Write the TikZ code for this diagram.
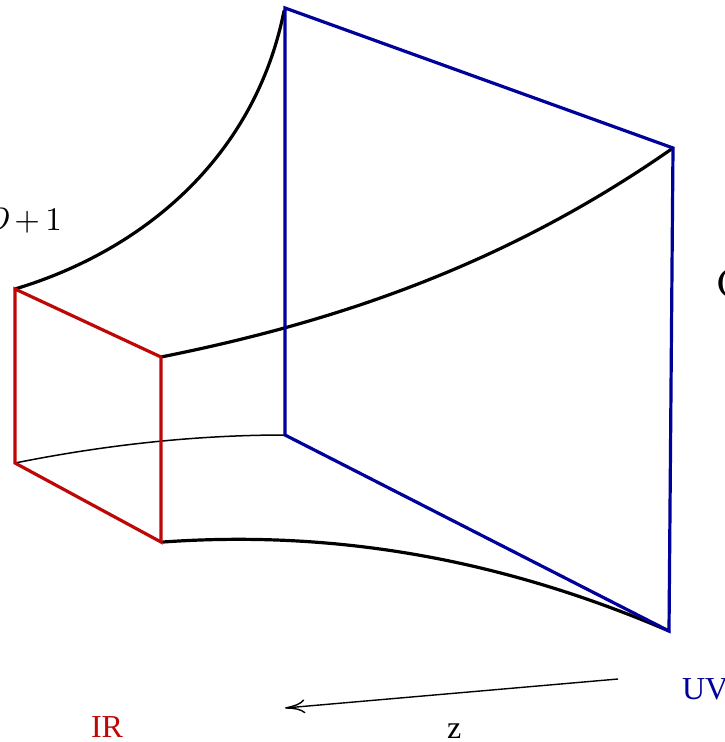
\documentclass[tikz,border=0pt]{standalone}
\usepackage{fontspec}
\newfontfamily\tms{Liberation Serif}
\newfontfamily\lmten{lmroman10-regular.otf}[ItalicFont=lmroman10-italic.otf]
\usetikzlibrary{arrows.meta}
\definecolor{irred}{RGB}{190,8,8}
\definecolor{uvblue}{RGB}{0,0,155}
\tikzset{
  redface/.style={draw=irred, line width=3.2pt, line join=miter},
  blueface/.style={draw=uvblue, line width=3.2pt, line join=miter},
  edge/.style={draw=black, line width=3.2pt, line cap=round},
  thinedge/.style={draw=black, line width=1.5pt, line cap=round},
  lbl/.style={inner sep=0pt, outer sep=0pt}
}
\begin{document}
\begin{tikzpicture}[x=1pt,y=-1pt]
\useasboundingbox (0,0) rectangle (725,742);
% corners
\coordinate (rTL) at (15,289);
\coordinate (rTR) at (161,357);
\coordinate (rBR) at (161,542);
\coordinate (rBL) at (15,463);
\coordinate (bTL) at (285,8);
\coordinate (bTR) at (673,148);
\coordinate (bBR) at (669,631);
\coordinate (bBL) at (285,435);
\coordinate (cTop) at (284,11);
\coordinate (cBot) at (163,542);
% curved edges
\draw[edge] (rTL) .. controls (145,250) and (255,156) .. (cTop);
\draw[edge] (rTR) .. controls (331,323) and (503,267) .. (bTR);
\draw[edge] (cBot) .. controls (333,530) and (499,558) .. (bBR);
\draw[thinedge] (rBL) .. controls (105,445) and (195,435) .. (bBL);
% faces
\draw[redface] (rTL) -- (rTR) -- (rBR) -- (rBL) -- cycle;
\draw[blueface] (bTL) -- (bTR) -- (bBR) -- (bBL) -- cycle;
% arrow
\coordinate (aS) at (618,679);
\coordinate (aE) at (285,708);
\draw[line width=1.4pt, -{Computer Modern Rightarrow[length=20pt,width=14pt,line width=1.4pt]}] (aS) -- (aE);
% labels
\node[lbl, anchor=base west, text=irred] (ir) at (91,737) {\tms\fontsize{32}{36}\selectfont IR};
\node[lbl, anchor=base west] (z) at (447,738) {\tms\fontsize{32}{36}\selectfont z};
\node[lbl, anchor=base west, text=uvblue] (uv) at (682,699) {\tms\fontsize{32}{36}\selectfont UV};
\node[lbl, anchor=base west] (cft) at (716,297) {\lmten\fontsize{41}{46}\selectfont C};
\node[lbl, anchor=base east] (dim) at (62,230) {\lmten\fontsize{33}{38}\selectfont\textit{D}\,+\,1};
\end{tikzpicture}
\end{document}
